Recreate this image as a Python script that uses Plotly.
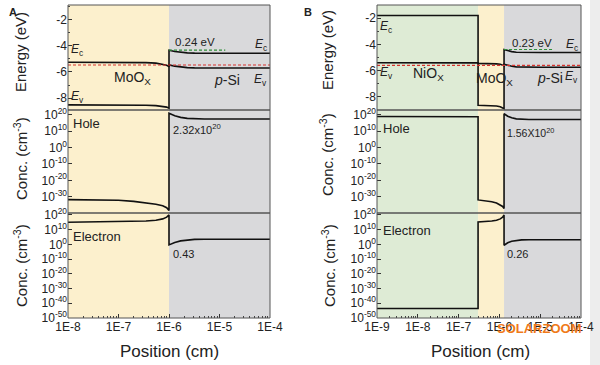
import plotly.graph_objects as go

W, H = 600, 365

# ---------------- data: panel A (MoOx / p-Si) ----------------
A_x_moox = [1e-8, 1e-7, 2e-7, 3.5e-7, 5.5e-7, 7.5e-7, 9e-7, 1e-6]
A_x_si = [1e-6, 1.3e-6, 1.7e-6, 2.3e-6, 3.2e-6, 5e-6, 1e-5, 1e-4]
A_Ec_moox = [-5.26, -5.26, -5.27, -5.29, -5.33, -5.40, -5.49, -5.60]
A_Ev_moox = [-8.51, -8.51, -8.52, -8.54, -8.57, -8.62, -8.68, -8.76]
A_Ec_si = [-4.34, -4.44, -4.51, -4.55, -4.57, -4.58, -4.58, -4.58]
A_Ev_si = [-5.46, -5.56, -5.63, -5.67, -5.69, -5.70, -5.70, -5.70]
A_EF = [-5.47, -5.47]
A_EF_x = [1e-8, 1e-4]
A_surf = [-4.34, -4.34]
A_surf_x = [1e-6, 1.3e-5]
A_hole_moox = [1.6e-32, 6e-33, 1.3e-33, 2e-34, 2.5e-35, 2.5e-36, 1.6e-37, 3e-39]
A_hole_si = [1e21, 3e19, 3e18, 8e17, 4e17, 3.2e17, 3e17, 3e17]
A_elec_moox = [1e15, 2e15, 3e15, 7e15, 2.5e16, 2e17, 3e18, 1e20]
A_elec_si = [0.43, 19, 230, 1200, 2400, 3000, 3000, 3000]
A_layers = [(1e-8, 1e-6, "#FCF0CD"), (1e-6, 1e-4, "#D9D9DB")]

# ---------------- data: panel B (NiOx / MoOx / p-Si) ----------------
B_x_nio = [1e-9, 1e-8, 1e-7, 2e-7, 3e-7]
B_x_moox = [3e-7, 5e-7, 6.5e-7, 8.5e-7, 1.05e-6, 1.2e-6, 1.3e-6]
B_x_si = [1.3e-6, 1.6e-6, 2e-6, 2.6e-6, 3.5e-6, 5.3e-6, 1e-5, 1e-4]
B_Ec_nio = [-1.80, -1.80, -1.80, -1.80, -1.80]
B_Ev_nio = [-5.40, -5.40, -5.40, -5.40, -5.41]
B_Ec_moox = [-5.45, -5.455, -5.465, -5.485, -5.52, -5.565, -5.62]
B_Ev_moox = [-8.64, -8.65, -8.66, -8.69, -8.75, -8.82, -8.90]
B_Ec_si = [-4.39, -4.49, -4.55, -4.595, -4.61, -4.62, -4.62, -4.62]
B_Ev_si = [-5.51, -5.61, -5.67, -5.715, -5.73, -5.74, -5.74, -5.74]
B_EF = [-5.60, -5.60]
B_EF_x = [1e-9, 1e-4]
B_surf = [-4.39, -4.39]
B_surf_x = [1.3e-6, 2e-5]
B_hole_nio = [1e19, 1e19, 1e19, 9e18, 7e18]
B_hole_moox = [1e-32, 3e-33, 8e-34, 1.3e-34, 1.3e-35, 1e-36, 6e-38]
B_hole_si = [5e20, 1.6e19, 1.6e18, 4e17, 2e17, 1.6e17, 1.6e17, 1.6e17]
B_elec_nio = [3e-44, 3e-44, 3e-44, 3e-44, 3e-44]
B_elec_moox = [1.5e15, 3e15, 7e15, 2.5e16, 2e17, 3e18, 1e20]
B_elec_si = [0.26, 11, 120, 580, 1150, 1500, 1500, 1500]
B_layers = [(1e-9, 3e-7, "#DEEBD5"), (3e-7, 1.3e-6, "#FCF0CD"), (1.3e-6, 1e-4, "#D9D9DB")]

# tick labels
x_tickvals_A = [1e-8, 1e-7, 1e-6, 1e-5, 1e-4]
x_ticktext_A = ["1E-8", "1E-7", "1E-6", "1E-5", "1E-4"]
x_tickvals_B = [1e-9, 1e-8, 1e-7, 1e-6, 1e-5, 1e-4]
x_ticktext_B = ["1E-9", "1E-8", "1E-7", "1E-6", "1E-5", "1E-4"]
E_ticks = [-2, -4, -6, -8]
E_minor = [-1, -3, -5, -7, -9]
hole_ticks = [1e20, 1e10, 1, 1e-10, 1e-20, 1e-30]
hole_text = ["10<sup>20</sup>", "10<sup>10</sup>", "10<sup>0</sup>", "10<sup>-10</sup>",
             "10<sup>-20</sup>", "10<sup>-30</sup>"]
elec_ticks = [1e20, 1e10, 1, 1e-10, 1e-20, 1e-30, 1e-40, 1e-50]
elec_text = ["10<sup>20</sup>", "10<sup>10</sup>", "10<sup>0</sup>", "10<sup>-10</sup>",
             "10<sup>-20</sup>", "10<sup>-30</sup>", "10<sup>-40</sup>", "10<sup>-50</sup>"]

FONT = "Liberation Sans, Arial, sans-serif"
TXT = "#222222"
LINE = dict(color="#111111", width=1.6)

fig = go.Figure()

def add_line(x, y, xa, ya, line=LINE):
    fig.add_trace(go.Scatter(x=x, y=y, xaxis=xa, yaxis=ya, mode="lines",
                             line=line, showlegend=False, hoverinfo="skip"))

# ---- Panel A traces ----
add_line(A_x_moox + A_x_si, A_Ec_moox + A_Ec_si, "x", "y")
add_line(A_x_moox + A_x_si, A_Ev_moox + A_Ev_si, "x", "y")
add_line(A_EF_x, A_EF, "x", "y", dict(color="#D8332E", width=1.1, dash="3px,2px"))
add_line(A_surf_x, A_surf, "x", "y", dict(color="#2F8F3A", width=1.1, dash="3px,2px"))
add_line(A_x_moox + A_x_si, A_hole_moox + A_hole_si, "x", "y2")
add_line(A_x_moox + A_x_si, A_elec_moox + A_elec_si, "x", "y3")

# ---- Panel B traces ----
add_line(B_x_nio + B_x_moox + B_x_si, B_Ec_nio + B_Ec_moox + B_Ec_si, "x2", "y4")
add_line(B_x_nio + B_x_moox + B_x_si, B_Ev_nio + B_Ev_moox + B_Ev_si, "x2", "y4")
add_line(B_EF_x, B_EF, "x2", "y4", dict(color="#D8332E", width=1.1, dash="3px,2px"))
add_line(B_surf_x, B_surf, "x2", "y4", dict(color="#2F8F3A", width=1.1, dash="3px,2px"))
add_line(B_x_nio + B_x_moox + B_x_si, B_hole_nio + B_hole_moox + B_hole_si, "x2", "y5")
add_line(B_x_nio + B_x_moox + B_x_si, B_elec_nio + B_elec_moox + B_elec_si, "x2", "y6")

def py(p):
    return 1 - p / H

def px(p):
    return p / W

dom_E = [py(110), py(5)]
dom_h = [py(213), py(110)]
dom_e = [py(318), py(213)]
dom_A = [px(68), px(270)]
dom_B = [px(377), px(581)]

tickfont = dict(family=FONT, size=12, color=TXT)

def xaxis(dom, anchor, rng, tv, tt, minor_vals):
    return dict(domain=dom, anchor=anchor, type="log", range=rng, tickvals=tv, ticktext=tt,
                ticks="inside", ticklen=4, tickcolor="#333", showgrid=False, zeroline=False,
                showline=False, tickfont=tickfont, automargin=False,
                minor=dict(tickvals=minor_vals, ticks="inside", ticklen=2, tickcolor="#444",
                           showgrid=False))

minor_A = [m * 10.0 ** e for e in range(-8, -4) for m in range(2, 10)]
minor_B = [m * 10.0 ** e for e in range(-9, -4) for m in range(2, 10)]

def yE(dom, anchor, rng):
    return dict(domain=dom, anchor=anchor, range=rng, tickvals=E_ticks,
                ticktext=[str(v) for v in E_ticks], ticks="inside", ticklen=4,
                tickcolor="#333", showgrid=False, zeroline=False, showline=False,
                tickfont=tickfont, automargin=False,
                minor=dict(tickvals=E_minor, ticks="inside", ticklen=2, tickcolor="#444"))

def ylog(dom, anchor, rng, tv, tt):
    return dict(domain=dom, anchor=anchor, type="log", range=rng, tickvals=tv, ticktext=tt,
                ticks="inside", ticklen=4, tickcolor="#333", showgrid=False, zeroline=False,
                showline=False, tickfont=tickfont, automargin=False)

fig.update_layout(
    width=W, height=H, margin=dict(l=0, r=0, t=0, b=0, pad=0, autoexpand=False),
    autosize=False, hovermode=False,
    paper_bgcolor="white", plot_bgcolor="rgba(0,0,0,0)",
    font=dict(family=FONT, color=TXT),
    xaxis=xaxis(dom_A, "y3", [-8, -4], x_tickvals_A, x_ticktext_A, minor_A),
    xaxis2=xaxis(dom_B, "y6", [-9, -4], x_tickvals_B, x_ticktext_B, minor_B),
    yaxis=yE(dom_E, "x", [-8.9, -0.9]),
    yaxis2=ylog(dom_h, "x", [-40, 23], hole_ticks, hole_text),
    yaxis3=ylog(dom_e, "x", [-50, 21.3], elec_ticks, elec_text),
    yaxis4=yE(dom_E, "x2", [-9.0, -1.0]),
    yaxis5=ylog(dom_h, "x2", [-40, 23], hole_ticks, hole_text),
    yaxis6=ylog(dom_e, "x2", [-50, 21.3], elec_ticks, elec_text),
)

shapes = []
# layer backgrounds
for xa, layers, yas in (("x", A_layers, ["y", "y2", "y3"]), ("x2", B_layers, ["y4", "y5", "y6"])):
    for (x0, x1, col) in layers:
        for ya in yas:
            shapes.append(dict(type="rect", xref=xa, yref=ya + " domain", x0=x0, x1=x1,
                               y0=0, y1=1, fillcolor=col, line=dict(width=0), layer="below"))
# panel frames
for xa, yas in (("x", ["y", "y2", "y3"]), ("x2", ["y4", "y5", "y6"])):
    for ya in yas:
        shapes.append(dict(type="rect", xref=xa + " domain", yref=ya + " domain",
                           x0=0, x1=1, y0=0, y1=1, line=dict(color="#555555", width=1),
                           fillcolor="rgba(0,0,0,0)", layer="above"))
# faint shade at right image edge
shapes.append(dict(type="rect", xref="paper", yref="paper", x0=px(590), x1=1, y0=0, y1=1,
                   fillcolor="rgba(225,225,225,0.6)", line=dict(width=0), layer="below"))
fig.update_layout(shapes=shapes)

ann = []

def T(text, x, y, size=12, xanchor="left", yanchor="middle", color=TXT, angle=0, bold=False):
    if bold:
        text = "<b>" + text + "</b>"
    ann.append(dict(text=text, x=px(x), y=py(y), xref="paper", yref="paper",
                    xanchor=xanchor, yanchor=yanchor, showarrow=False, textangle=angle,
                    font=dict(family=FONT, size=size, color=color)))

Ec = "<i>E</i><sub>c</sub>"
Ev = "<i>E</i><sub>v</sub>"
# panel A labels
T("A", 13, 12, 11, "center", bold=True)
T(Ec, 69, 50, 12)
T("MoO<sub>X</sub>", 132, 78, 14, "center")
T(Ev, 69, 97, 12)
T("0.24 eV", 195, 42, 11.5, "center")
T(Ec, 269, 45, 12, "right")
T("<i>p</i>-Si", 227, 80, 14, "center")
T(Ev, 269, 80, 12, "right")
T("Hole", 71, 124, 13)
T("2.32x10<sup>20</sup>", 171, 129, 11)
T("Electron", 71, 236, 13)
T("0.43", 171, 254, 11)
T("Energy (eV)", 21, 52, 15, "center", angle=-90)
T("Conc. (cm<sup>-3</sup>)", 20, 159, 15, "center", angle=-90)
T("Conc. (cm<sup>-3</sup>)", 20, 266, 15, "center", angle=-90)
T("Position (cm)", 169, 351, 17, "center")
# panel B labels
T("B", 308, 12, 11, "center", bold=True)
T(Ec, 378, 27, 12)
T(Ev, 378, 73, 12)
T("NiO<sub>X</sub>", 428, 74, 14, "center")
T("MoO<sub>X</sub>", 494, 79, 14, "center")
T("0.23 eV", 532, 43, 11.5, "center")
T(Ec, 580, 45, 12, "right")
T("<i>p</i>-Si", 550, 78, 14, "center")
T(Ev, 580, 77, 12, "right")
T("Hole", 381, 128, 13)
T("1.56X10<sup>20</sup>", 505, 133, 10.5)
T("Electron", 381, 231, 13)
T("0.26", 505, 254, 11)
T("Energy (eV)", 327, 50, 15, "center", angle=-90)
T("Conc. (cm<sup>-3</sup>)", 327, 155, 15, "center", angle=-90)
T("Conc. (cm<sup>-3</sup>)", 328, 266, 15, "center", angle=-90)
T("Position (cm)", 480, 351, 17, "center")
T("SOLARZOOM", 539, 328, 13, "center", color="#F07A1A", bold=True)
fig.update_layout(annotations=ann)

fig.write_html(
    "out.html",
    config={"displayModeBar": False, "staticPlot": True},
    post_script="document.body.style.margin='0px';document.body.style.overflow='hidden';",
)
